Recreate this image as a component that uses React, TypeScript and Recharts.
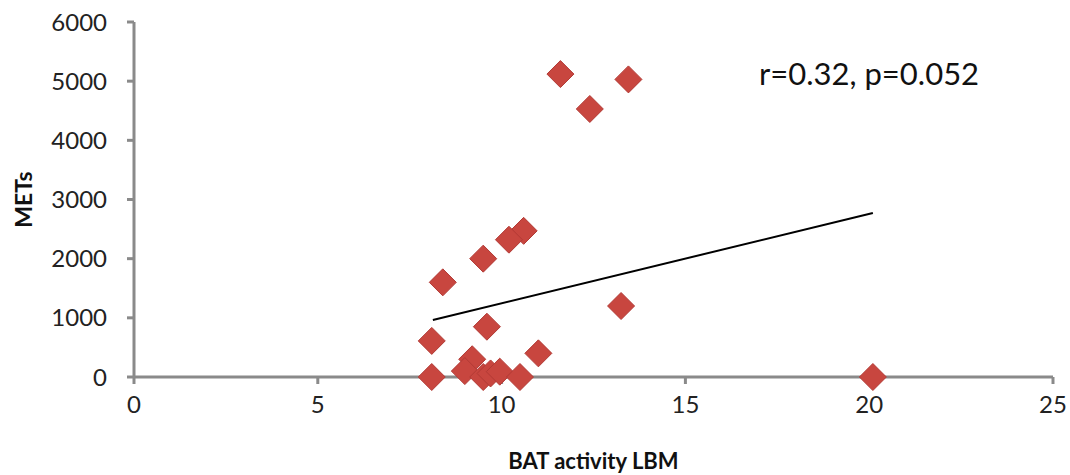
import { ReferenceLine, Scatter, ScatterChart, XAxis, YAxis, Label } from "recharts";

// BAT activity (LBM) vs METs
const batActivity = [11.6, 13.45, 12.4, 10.6, 10.2, 9.5, 8.4, 13.25, 9.6, 8.1, 11.0, 8.1, 9.2, 9.0, 9.5, 9.7, 9.95, 10.5, 20.1];
const mets = [5120, 5030, 4530, 2470, 2320, 2000, 1600, 1200, 850, 610, 400, 0, 300, 100, 0, 60, 90, 0, 0];

const xTicks = [0, 5, 10, 15, 20, 25];
const yTicks = [0, 1000, 2000, 3000, 4000, 5000, 6000];

// linear trend line end points
const trendStart = { x: 8.13, y: 963 };
const trendEnd = { x: 20.1, y: 2772 };

const data = batActivity.map((x, i) => ({ x, y: mets[i] }));

const AXIS = "#8a8a8a";
const FONT = "Lato, 'Open Sans', sans-serif";

const Diamond = (props: any) => {
  const { cx, cy } = props;
  const r = 13.5;
  return (
    <polygon
      points={`${cx},${cy - r} ${cx + r},${cy} ${cx},${cy + r} ${cx - r},${cy}`}
      fill="#c8463f"
      stroke="#b23a35"
      strokeWidth={1}
    />
  );
};

export default function App() {
  return (
    <div style={{ position: "absolute", left: 0, top: 0, width: 1070, height: 475, background: "#fff", fontFamily: FONT }}>
      <ScatterChart width={1070} height={475} margin={{ top: 22, right: 17, left: 0, bottom: 0 }}>
        <XAxis
          type="number"
          dataKey="x"
          domain={[0, 25]}
          ticks={xTicks}
          height={98}
          axisLine={{ stroke: AXIS, strokeWidth: 3 }}
          tickLine={{ stroke: AXIS, strokeWidth: 3 }}
          tickSize={7}
          tickMargin={12}
          tick={{ fill: "#222", fontSize: 24, fontFamily: FONT }}
        >
          <Label
            value="BAT activity LBM"
            position="insideBottom"
            offset={6}
            style={{ fill: "#111", fontSize: 22, fontWeight: 700, fontFamily: FONT }}
          />
        </XAxis>
        <YAxis
          type="number"
          dataKey="y"
          domain={[0, 6000]}
          ticks={yTicks}
          width={134}
          axisLine={{ stroke: AXIS, strokeWidth: 3 }}
          tickLine={{ stroke: AXIS, strokeWidth: 3 }}
          tickSize={7}
          tickMargin={20}
          tick={{ fill: "#222", fontSize: 24, fontFamily: FONT }}
        >
          <Label
            value="METs"
            angle={-90}
            position="insideLeft"
            offset={24}
            style={{ fill: "#111", fontSize: 23, fontWeight: 700, fontFamily: FONT, textAnchor: "middle" }}
          />
        </YAxis>
        <ReferenceLine segment={[trendStart, trendEnd]} stroke="#000" strokeWidth={2} />
        <Scatter data={data} shape={<Diamond />} isAnimationActive={false} />
      </ScatterChart>
      <div style={{ position: "absolute", left: 759, top: 54, fontSize: 31, color: "#111", fontFamily: FONT, whiteSpace: "nowrap" }}>
        r=0.32, p=0.052
      </div>
    </div>
  );
}
